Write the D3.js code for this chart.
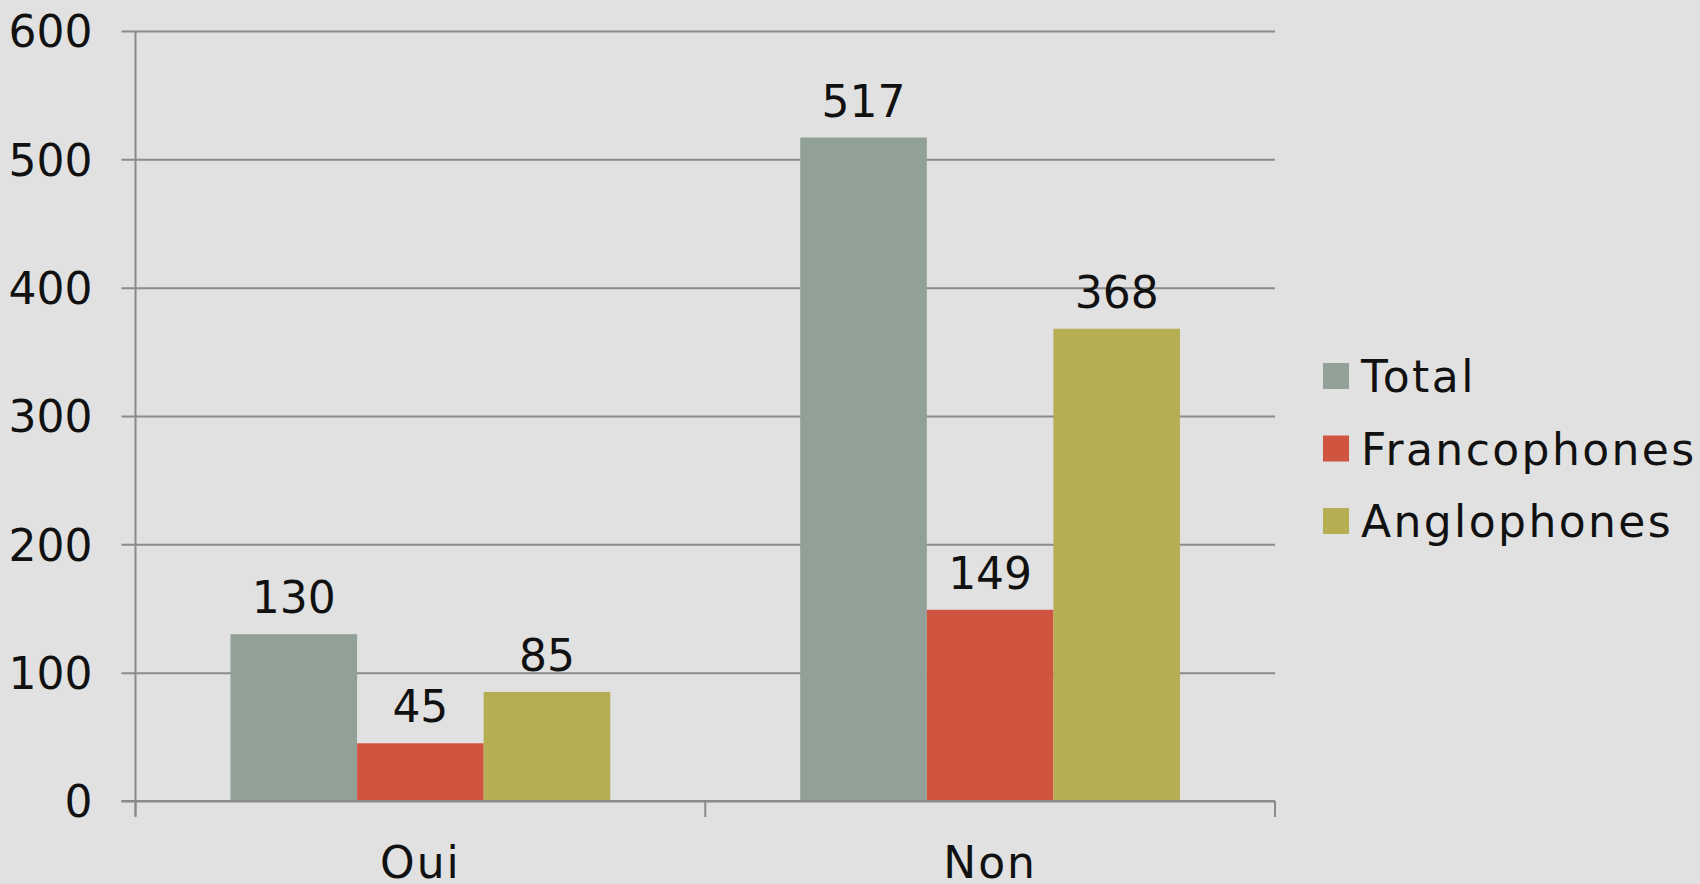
<!DOCTYPE html>
<html>
<head>
<meta charset="utf-8">
<script src="https://cdn.jsdelivr.net/npm/d3@7"></script>
<style>
  body { margin: 0; background: #e1e1e1; }
  svg { display: block; }
  text { font-family: "DejaVu Sans", sans-serif; fill: #111; }
</style>
</head>
<body>
<div id="chart"></div>
<script>
const categories = ["Oui", "Non"];
const seriesNames = ["Total", "Francophones", "Anglophones"];
const totalValues = [130, 517];
const francoValues = [45, 149];
const angloValues = [85, 368];
const yTicks = [0, 100, 200, 300, 400, 500, 600];
const seriesColors = ["#92a198", "#d05540", "#b5ae53"];

const allSeries = [totalValues, francoValues, angloValues];
const rows = categories.map(function(c, i){
    return { cat: c, vals: seriesNames.map(function(s, j){ return { name: s, value: allSeries[j][i] }; }) };
});

const width = 1700, height = 884;
const plotLeft = 135.5, plotRight = 1275, plotTop = 31, plotBottom = 801;

const svg = d3.select("#chart").append("svg")
    .attr("width", width)
    .attr("height", height);

svg.append("rect").attr("width", width).attr("height", height).attr("fill", "#e1e1e1");

const y = d3.scaleLinear().domain([0, 600]).range([plotBottom, plotTop]);
const x0 = d3.scaleBand().domain(categories).range([plotLeft, plotRight]).padding(0);
const x1 = d3.scaleBand().domain(seriesNames).range([0, x0.bandwidth()])
    .paddingInner(0).paddingOuter(0.75);
const color = d3.scaleOrdinal().domain(seriesNames).range(seriesColors);

// gridlines + y labels
const yAxis = svg.append("g")
    .attr("transform", "translate(" + plotLeft + ",0)")
    .call(d3.axisLeft(y).tickValues(yTicks).tickSize(-(plotRight - plotLeft)).tickSizeOuter(0).tickPadding(43));
yAxis.select(".domain").remove();
yAxis.selectAll(".tick line")
    .attr("x1", -14)
    .attr("stroke", "#8a8a8a")
    .attr("stroke-width", 2);
yAxis.selectAll(".tick text")
    .attr("font-size", 44)
    .attr("font-family", "DejaVu Sans, sans-serif")
    .attr("fill", "#111")
    .attr("dy", "0.36em");

// y axis line
svg.append("line")
    .attr("x1", plotLeft).attr("x2", plotLeft)
    .attr("y1", plotTop).attr("y2", plotBottom + 14)
    .attr("stroke", "#8a8a8a").attr("stroke-width", 2);

// bars
const groups = svg.selectAll("g.grp")
    .data(rows)
    .enter().append("g")
    .attr("class", "grp")
    .attr("transform", function(d){ return "translate(" + x0(d.cat) + ",0)"; });

groups.selectAll("rect")
    .data(function(d){ return d.vals; })
    .enter().append("rect")
    .attr("x", function(d){ return x1(d.name); })
    .attr("width", x1.bandwidth())
    .attr("y", function(d){ return y(d.value); })
    .attr("height", function(d){ return y(0) - y(d.value); })
    .attr("fill", function(d){ return color(d.name); });

groups.selectAll("text.val")
    .data(function(d){ return d.vals; })
    .enter().append("text")
    .attr("class", "val")
    .attr("x", function(d){ return x1(d.name) + x1.bandwidth() / 2; })
    .attr("y", function(d){ return y(d.value) - 21; })
    .attr("text-anchor", "middle")
    .attr("font-size", 44)
    .text(function(d){ return d.value; });

// x axis
const xAxis = svg.append("g")
    .attr("transform", "translate(0," + plotBottom + ")")
    .call(d3.axisBottom(x0).tickSize(0).tickPadding(0));
xAxis.select(".domain").remove();
xAxis.selectAll(".tick text")
    .attr("font-size", 44)
    .attr("font-family", "DejaVu Sans, sans-serif")
    .attr("fill", "#111")
    .attr("letter-spacing", 2)
    .attr("dy", 0)
    .attr("y", 77);

svg.append("line")
    .attr("x1", plotLeft - 14).attr("x2", plotRight)
    .attr("y1", plotBottom).attr("y2", plotBottom)
    .attr("stroke", "#8a8a8a").attr("stroke-width", 2);

// category separators on x axis
svg.selectAll("line.xt")
    .data(categories.concat(["end"]))
    .enter().append("line")
    .attr("class", "xt")
    .attr("x1", function(d, i){ return i < categories.length ? x0(d) : plotRight; })
    .attr("x2", function(d, i){ return i < categories.length ? x0(d) : plotRight; })
    .attr("y1", plotBottom).attr("y2", plotBottom + 16)
    .attr("stroke", "#8a8a8a").attr("stroke-width", 2);

// legend
const legend = svg.append("g").attr("transform", "translate(1323,376)");
const li = legend.selectAll("g")
    .data(seriesNames)
    .enter().append("g")
    .attr("transform", function(d, i){ return "translate(0," + (i * 72.5) + ")"; });
li.append("rect")
    .attr("x", 0).attr("y", -13)
    .attr("width", 26).attr("height", 26)
    .attr("fill", function(d){ return color(d); });
li.append("text")
    .attr("x", 38)
    .attr("y", 16)
    .attr("font-size", 44)
    .attr("letter-spacing", 2.4)
    .text(function(d){ return d; });
</script>
</body>
</html>
